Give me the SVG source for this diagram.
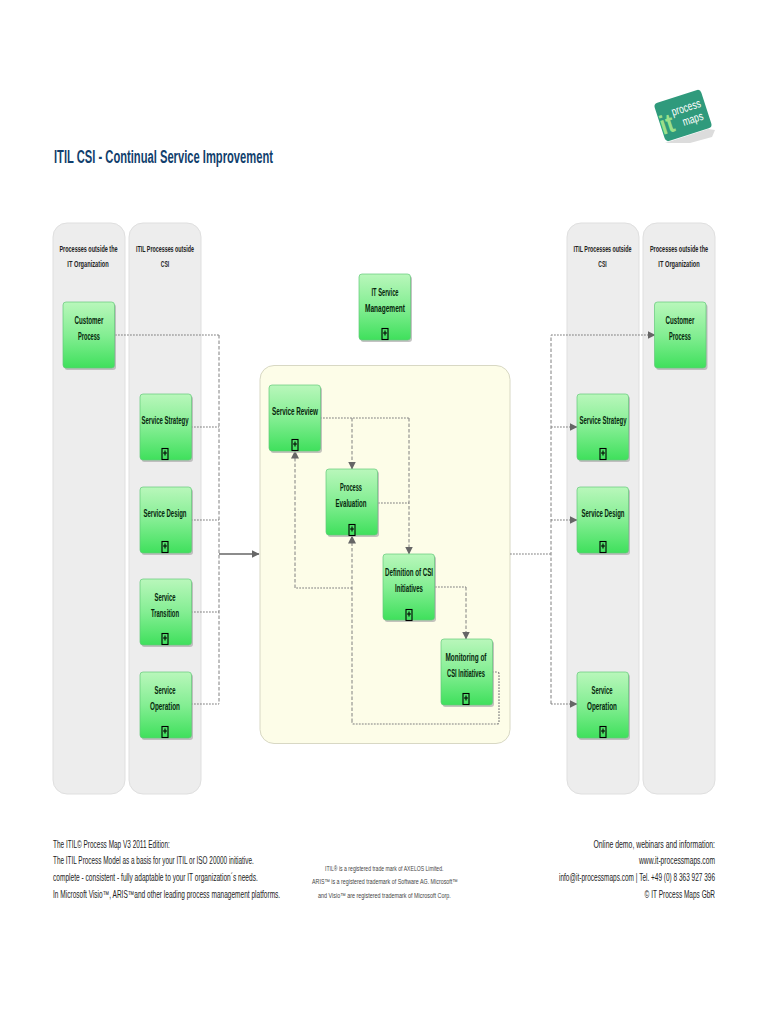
<svg xmlns="http://www.w3.org/2000/svg" width="768" height="1024" viewBox="0 0 768 1024">
<style>
text{font-family:"Liberation Sans Narrow","Liberation Sans",sans-serif;fill:#111}
.n{font-size:10.500px;font-weight:700;text-anchor:middle;fill:#06260c}
.h{font-size:9.500px;font-weight:700;text-anchor:middle;fill:#222}
.f{font-size:10px;fill:#222}
.fr{font-size:10px;fill:#222;text-anchor:end}
.m{font-size:7px;fill:#444}
.lane{fill:#ededed;stroke:#dfdfdf;stroke-width:1}
.box{fill:url(#g);stroke:#63c97a;stroke-width:.7}
.sh{fill:#a9a9a9;opacity:.7}
.pl{fill:none;stroke:#000;stroke-width:1.1}
.c{fill:none;stroke:#808080;stroke-width:1.2;stroke-dasharray:1.800 1.200}
.v{fill:none;stroke:#808080;stroke-width:1;stroke-dasharray:3.500 2}
.s{fill:none;stroke:#666;stroke-width:1.6}
</style>
<defs>
<linearGradient id="g" x1="0" y1="0" x2="0" y2="1"><stop offset="0" stop-color="#b9f7bb"/><stop offset=".5" stop-color="#84ee93"/><stop offset="1" stop-color="#3fe05c"/></linearGradient>
<marker id="a" viewBox="0 0 8 8" refX="7.500" refY="4" markerWidth="8" markerHeight="8" markerUnits="userSpaceOnUse" orient="auto"><path d="M0 0L8 4L0 8Z" fill="#666"/></marker>
<g id="pb"><rect class="sh" x="1.500" y="2" width="51.500" height="66" rx="3"/><rect class="box" width="51.500" height="66" rx="3"/></g>
<g id="plus"><rect class="pl" x="-3" y="-5.500" width="6" height="11"/><path class="pl" d="M-2 -1H2M0-3.500V1.500"/></g>
</defs>
<rect width="768" height="1024" fill="#fff"/>

<text x="54" y="163" font-size="18" font-weight="700" style="fill:#123f6d" textLength="219" lengthAdjust="spacingAndGlyphs">ITIL CSI - Continual Service Improvement</text>

<g id="logo">
<path d="M665 143L708 129L715 130L712 137L690 143Z" fill="#dcdcdc"/>
<g transform="translate(683 115.500) rotate(-18)"><rect x="-24.500" y="-20" width="49" height="40" rx="4" fill="#2f9a7c"/></g>
<text transform="translate(663 135) rotate(-18)" font-size="27" font-weight="700" style="fill:#9be08a" textLength="14" lengthAdjust="spacingAndGlyphs">it</text>
<text transform="translate(673 116) rotate(-18)" font-size="12" style="fill:#fff" textLength="30" lengthAdjust="spacingAndGlyphs">process</text>
<text transform="translate(684 126) rotate(-18)" font-size="12" style="fill:#fff" textLength="21" lengthAdjust="spacingAndGlyphs">maps</text>
</g>

<g id="lanes">
<rect class="lane" x="53" y="223" width="72" height="571" rx="14"/>
<rect class="lane" x="129" y="223" width="72" height="571" rx="14"/>
<rect class="lane" x="567" y="223" width="72" height="571" rx="14"/>
<rect class="lane" x="643" y="223" width="72" height="571" rx="14"/>
<text class="h" transform="translate(88.500 252) scale(.7 1)" textLength="83" lengthAdjust="spacingAndGlyphs">Processes outside the</text>
<text class="h" transform="translate(88 267) scale(.7 1)" textLength="59" lengthAdjust="spacingAndGlyphs">IT Organization</text>
<text class="h" transform="translate(165 252) scale(.7 1)" textLength="83" lengthAdjust="spacingAndGlyphs">ITIL Processes outside</text>
<text class="h" transform="translate(165 267) scale(.7 1)" textLength="12" lengthAdjust="spacingAndGlyphs">CSI</text>
<text class="h" transform="translate(602.500 252) scale(.7 1)" textLength="83" lengthAdjust="spacingAndGlyphs">ITIL Processes outside</text>
<text class="h" transform="translate(602.500 267) scale(.7 1)" textLength="12" lengthAdjust="spacingAndGlyphs">CSI</text>
<text class="h" transform="translate(679 252) scale(.7 1)" textLength="83" lengthAdjust="spacingAndGlyphs">Processes outside the</text>
<text class="h" transform="translate(679 267) scale(.7 1)" textLength="59" lengthAdjust="spacingAndGlyphs">IT Organization</text>
</g>

<rect id="csi-area" x="260" y="365.500" width="250" height="378" rx="14" fill="#fdfde8" stroke="#d8d8c4"/>

<g id="connectors">
<path class="c" d="M115 335H219"/><path class="v" d="M219 335V704"/>
<path class="c" d="M191 427H219M191 520H219M191 612H219M191 704H219"/>
<path class="s" d="M219 554H259" marker-end="url(#a)"/>
<path class="c" d="M510 554H551"/>
<path class="v" d="M551 704V335"/>
<path class="c" d="M551 335H655" marker-end="url(#a)"/>
<path class="c" d="M551 427H577" marker-end="url(#a)"/>
<path class="c" d="M551 520H577" marker-end="url(#a)"/>
<path class="c" d="M551 704H577" marker-end="url(#a)"/>
<path class="c" d="M320 418H409"/>
<path class="v" d="M352 418V469" marker-end="url(#a)"/>
<path class="v" d="M409 418V554" marker-end="url(#a)"/>
<path class="c" d="M378 503H409"/>
<path class="c" d="M435 587H466"/>
<path class="v" d="M466 587V639" marker-end="url(#a)"/>
<path class="c" d="M492 672H497Q499 672 499 674V722Q499 724 497 724H354Q352 724 352 722"/>
<path class="v" d="M352 722V536" marker-end="url(#a)"/>
<path class="c" d="M352 588H295"/>
<path class="v" d="M295 588V451" marker-end="url(#a)"/>
</g>

<g id="customer-left"><use href="#pb" x="63" y="302"/><text class="n" x="89" y="324" textLength="29" lengthAdjust="spacingAndGlyphs">Customer</text><text class="n" x="89" y="340" textLength="22" lengthAdjust="spacingAndGlyphs">Process</text></g>
<g id="customer-right"><use href="#pb" x="654.500" y="302"/><text class="n" x="680" y="324" textLength="29" lengthAdjust="spacingAndGlyphs">Customer</text><text class="n" x="680" y="340" textLength="22" lengthAdjust="spacingAndGlyphs">Process</text></g>
<g id="itsm"><use href="#pb" x="359" y="274"/><text class="n" x="385" y="296" textLength="27" lengthAdjust="spacingAndGlyphs">IT Service</text><text class="n" x="385" y="312" textLength="40" lengthAdjust="spacingAndGlyphs">Management</text><use href="#plus" x="385" y="334"/></g>

<g id="strategy-left"><use href="#pb" x="140" y="394"/><text class="n" x="165" y="424" textLength="47" lengthAdjust="spacingAndGlyphs">Service Strategy</text><use href="#plus" x="165" y="454"/></g>
<g id="design-left"><use href="#pb" x="140" y="487"/><text class="n" x="165" y="517" textLength="43" lengthAdjust="spacingAndGlyphs">Service Design</text><use href="#plus" x="165" y="547"/></g>
<g id="transition-left"><use href="#pb" x="140" y="579"/><text class="n" x="165" y="601" textLength="21" lengthAdjust="spacingAndGlyphs">Service</text><text class="n" x="165" y="617" textLength="28" lengthAdjust="spacingAndGlyphs">Transition</text><use href="#plus" x="165" y="639"/></g>
<g id="operation-left"><use href="#pb" x="140" y="672"/><text class="n" x="165" y="694" textLength="21" lengthAdjust="spacingAndGlyphs">Service</text><text class="n" x="165" y="710" textLength="30" lengthAdjust="spacingAndGlyphs">Operation</text><use href="#plus" x="165" y="732"/></g>

<g id="strategy-right"><use href="#pb" x="577" y="394"/><text class="n" x="603" y="424" textLength="47" lengthAdjust="spacingAndGlyphs">Service Strategy</text><use href="#plus" x="603" y="454"/></g>
<g id="design-right"><use href="#pb" x="577" y="487"/><text class="n" x="603" y="517" textLength="43" lengthAdjust="spacingAndGlyphs">Service Design</text><use href="#plus" x="603" y="547"/></g>
<g id="operation-right"><use href="#pb" x="577" y="672"/><text class="n" x="602" y="694" textLength="21" lengthAdjust="spacingAndGlyphs">Service</text><text class="n" x="602" y="710" textLength="30" lengthAdjust="spacingAndGlyphs">Operation</text><use href="#plus" x="603" y="732"/></g>

<g id="service-review"><use href="#pb" x="269" y="385"/><text class="n" x="295" y="415" textLength="46" lengthAdjust="spacingAndGlyphs">Service Review</text><use href="#plus" x="295" y="445"/></g>
<g id="process-evaluation"><use href="#pb" x="326" y="469"/><text class="n" x="351" y="491" textLength="22" lengthAdjust="spacingAndGlyphs">Process</text><text class="n" x="351" y="507" textLength="31" lengthAdjust="spacingAndGlyphs">Evaluation</text><use href="#plus" x="352" y="530"/></g>
<g id="definition"><use href="#pb" x="383" y="554"/><text class="n" x="409" y="576" textLength="48" lengthAdjust="spacingAndGlyphs">Definition of CSI</text><text class="n" x="409" y="592" textLength="28" lengthAdjust="spacingAndGlyphs">Initiatives</text><use href="#plus" x="409" y="615"/></g>
<g id="monitoring"><use href="#pb" x="441" y="639"/><text class="n" x="466" y="661" textLength="41" lengthAdjust="spacingAndGlyphs">Monitoring of</text><text class="n" x="466" y="677" textLength="38" lengthAdjust="spacingAndGlyphs">CSI Initiatives</text><use href="#plus" x="466" y="699"/></g>

<g id="footer">
<text class="f" transform="translate(53 848) scale(.8 1)" textLength="146" lengthAdjust="spacingAndGlyphs">The ITIL© Process Map V3 2011 Edition:</text>
<text class="f" transform="translate(53 864) scale(.8 1)" textLength="251" lengthAdjust="spacingAndGlyphs">The ITIL Process Model as a basis for your ITIL or ISO 20000 initiative.</text>
<text class="f" transform="translate(53 881) scale(.8 1)" textLength="256" lengthAdjust="spacingAndGlyphs">complete - consistent - fully adaptable to your IT organization´s needs.</text>
<text class="f" transform="translate(53 898) scale(.8 1)" textLength="284" lengthAdjust="spacingAndGlyphs">In Microsoft Visio™, ARIS™and other leading process management platforms.</text>
<text class="m" transform="translate(325 871) scale(.8 1)" textLength="148" lengthAdjust="spacingAndGlyphs">ITIL® is a registered trade mark of AXELOS Limited.</text>
<text class="m" transform="translate(312 884) scale(.8 1)" textLength="182" lengthAdjust="spacingAndGlyphs">ARIS™ is a registered trademark of Software AG. Microsoft™</text>
<text class="m" transform="translate(318 898) scale(.8 1)" textLength="166" lengthAdjust="spacingAndGlyphs">and Visio™ are registered trademark of Microsoft Corp.</text>
<text class="fr" transform="translate(715 848) scale(.8 1)" textLength="152" lengthAdjust="spacingAndGlyphs">Online demo, webinars and information:</text>
<text class="fr" transform="translate(715 864) scale(.8 1)" textLength="95" lengthAdjust="spacingAndGlyphs">www.it-processmaps.com</text>
<text class="fr" transform="translate(715 881) scale(.8 1)" textLength="195" lengthAdjust="spacingAndGlyphs">info@it-processmaps.com | Tel. +49 (0) 8 363 927 396</text>
<text class="fr" transform="translate(715 898) scale(.8 1)" textLength="88" lengthAdjust="spacingAndGlyphs">© IT Process Maps GbR</text>
</g>
</svg>
